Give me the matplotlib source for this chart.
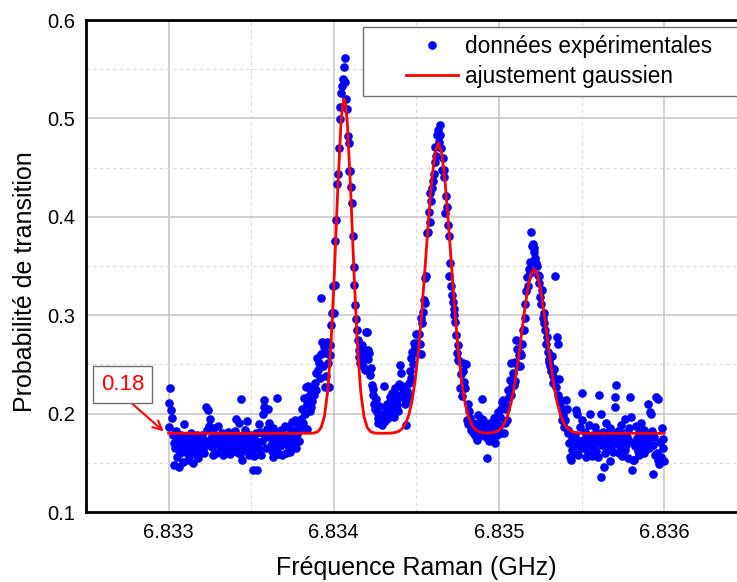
import matplotlib
matplotlib.use('Agg')
import matplotlib.pyplot as plt
import numpy as np
from matplotlib.patches import Rectangle
from matplotlib.ticker import FixedLocator, FormatStrFormatter

plt.rcParams['font.family'] = ['Liberation Sans', 'DejaVu Sans']

# balayage en fréquence : départ 6.833 GHz, pas de 5 kHz
freq_start = 6.833
step_mhz = 0.005

# probabilité mesurée, une ligne = 0.1 MHz (20 points)
prob_rows = [
    [0.186, 0.211, 0.226, 0.204, 0.196, 0.178, 0.148, 0.170, 0.165, 0.182, 0.156, 0.174, 0.146, 0.168, 0.160, 0.178, 0.163, 0.151, 0.172, 0.189],
    [0.167, 0.175, 0.160, 0.153, 0.171, 0.166, 0.158, 0.180, 0.170, 0.162, 0.150, 0.174, 0.165, 0.159, 0.178, 0.168, 0.155, 0.163, 0.176, 0.161],
    [0.178, 0.170, 0.165, 0.160, 0.172, 0.207, 0.183, 0.168, 0.204, 0.187, 0.195, 0.175, 0.166, 0.171, 0.158, 0.185, 0.177, 0.169, 0.160, 0.173],
    [0.187, 0.176, 0.168, 0.173, 0.163, 0.180, 0.158, 0.171, 0.166, 0.175, 0.170, 0.165, 0.181, 0.163, 0.159, 0.172, 0.168, 0.177, 0.174, 0.166],
    [0.170, 0.182, 0.195, 0.161, 0.167, 0.190, 0.159, 0.176, 0.215, 0.153, 0.171, 0.167, 0.183, 0.163, 0.175, 0.192, 0.170, 0.158, 0.178, 0.165],
    [0.168, 0.162, 0.143, 0.174, 0.157, 0.167, 0.180, 0.143, 0.171, 0.164, 0.189, 0.181, 0.158, 0.172, 0.200, 0.214, 0.207, 0.176, 0.165, 0.184],
    [0.205, 0.190, 0.176, 0.181, 0.168, 0.162, 0.185, 0.156, 0.174, 0.181, 0.166, 0.216, 0.159, 0.175, 0.170, 0.167, 0.183, 0.158, 0.172, 0.178],
    [0.178, 0.187, 0.160, 0.175, 0.167, 0.186, 0.173, 0.161, 0.183, 0.170, 0.191, 0.176, 0.180, 0.193, 0.165, 0.183, 0.179, 0.188, 0.172, 0.185],
    [0.195, 0.186, 0.205, 0.190, 0.216, 0.200, 0.227, 0.184, 0.210, 0.228, 0.218, 0.203, 0.222, 0.207, 0.213, 0.226, 0.219, 0.231, 0.241, 0.224],
    [0.256, 0.244, 0.251, 0.236, 0.261, 0.317, 0.273, 0.248, 0.268, 0.227, 0.238, 0.262, 0.273, 0.251, 0.227, 0.270, 0.260, 0.290, 0.302, 0.330],
    [0.302, 0.331, 0.375, 0.397, 0.433, 0.444, 0.470, 0.499, 0.512, 0.526, 0.533, 0.540, 0.552, 0.561, 0.537, 0.520, 0.510, 0.482, 0.475, 0.447],
    [0.447, 0.430, 0.414, 0.380, 0.349, 0.331, 0.310, 0.296, 0.285, 0.275, 0.265, 0.258, 0.251, 0.261, 0.270, 0.248, 0.256, 0.264, 0.244, 0.283],
    [0.283, 0.265, 0.255, 0.262, 0.239, 0.246, 0.229, 0.219, 0.225, 0.210, 0.205, 0.215, 0.202, 0.196, 0.190, 0.208, 0.198, 0.193, 0.188, 0.200],
    [0.200, 0.228, 0.192, 0.207, 0.210, 0.203, 0.196, 0.200, 0.217, 0.214, 0.205, 0.221, 0.211, 0.197, 0.226, 0.219, 0.209, 0.215, 0.203, 0.230],
    [0.249, 0.241, 0.227, 0.228, 0.222, 0.216, 0.210, 0.188, 0.214, 0.223, 0.219, 0.231, 0.243, 0.236, 0.256, 0.263, 0.250, 0.272, 0.268, 0.281],
    [0.263, 0.272, 0.262, 0.281, 0.271, 0.297, 0.261, 0.292, 0.303, 0.315, 0.312, 0.338, 0.340, 0.384, 0.385, 0.405, 0.395, 0.424, 0.416, 0.429],
    [0.436, 0.444, 0.471, 0.456, 0.462, 0.483, 0.488, 0.476, 0.483, 0.493, 0.470, 0.448, 0.460, 0.448, 0.440, 0.404, 0.421, 0.410, 0.392, 0.380],
    [0.340, 0.353, 0.330, 0.321, 0.313, 0.300, 0.306, 0.293, 0.280, 0.262, 0.270, 0.254, 0.253, 0.226, 0.240, 0.218, 0.251, 0.243, 0.232, 0.226],
    [0.250, 0.193, 0.189, 0.210, 0.203, 0.196, 0.183, 0.186, 0.181, 0.190, 0.179, 0.184, 0.176, 0.173, 0.187, 0.199, 0.180, 0.192, 0.178, 0.215],
    [0.195, 0.194, 0.185, 0.188, 0.176, 0.155, 0.182, 0.185, 0.172, 0.190, 0.173, 0.181, 0.188, 0.178, 0.196, 0.170, 0.185, 0.190, 0.178, 0.202],
    [0.187, 0.197, 0.180, 0.205, 0.212, 0.214, 0.180, 0.190, 0.205, 0.209, 0.193, 0.224, 0.217, 0.234, 0.219, 0.251, 0.228, 0.241, 0.229, 0.233],
    [0.252, 0.275, 0.266, 0.248, 0.260, 0.248, 0.262, 0.260, 0.271, 0.285, 0.285, 0.297, 0.311, 0.325, 0.339, 0.330, 0.347, 0.354, 0.343, 0.385],
    [0.370, 0.372, 0.364, 0.368, 0.358, 0.353, 0.350, 0.341, 0.340, 0.333, 0.319, 0.311, 0.326, 0.297, 0.302, 0.292, 0.285, 0.271, 0.278, 0.263],
    [0.255, 0.252, 0.248, 0.243, 0.259, 0.238, 0.231, 0.245, 0.340, 0.227, 0.278, 0.271, 0.219, 0.235, 0.212, 0.214, 0.194, 0.205, 0.199, 0.186],
    [0.193, 0.214, 0.205, 0.183, 0.180, 0.170, 0.156, 0.153, 0.163, 0.175, 0.170, 0.160, 0.178, 0.204, 0.168, 0.200, 0.158, 0.172, 0.186, 0.165],
    [0.221, 0.193, 0.173, 0.165, 0.181, 0.156, 0.176, 0.170, 0.161, 0.188, 0.200, 0.168, 0.173, 0.157, 0.178, 0.165, 0.186, 0.171, 0.162, 0.180],
    [0.156, 0.219, 0.174, 0.200, 0.136, 0.168, 0.181, 0.146, 0.160, 0.172, 0.190, 0.163, 0.177, 0.170, 0.152, 0.185, 0.166, 0.175, 0.161, 0.179],
    [0.207, 0.217, 0.229, 0.170, 0.182, 0.160, 0.175, 0.166, 0.188, 0.157, 0.172, 0.180, 0.163, 0.195, 0.168, 0.176, 0.155, 0.185, 0.172, 0.217],
    [0.197, 0.143, 0.153, 0.170, 0.153, 0.167, 0.187, 0.175, 0.162, 0.181, 0.158, 0.172, 0.190, 0.166, 0.177, 0.160, 0.183, 0.170, 0.164, 0.178],
    [0.174, 0.210, 0.165, 0.202, 0.200, 0.182, 0.139, 0.168, 0.176, 0.158, 0.217, 0.160, 0.215, 0.153, 0.149, 0.171, 0.156, 0.185, 0.165, 0.174],
]
prob_last = 0.152

# ajustement gaussien (décalage en MHz depuis 6.833 GHz, probabilité)
fit_offset_mhz = [0.000, 0.843, 0.863, 0.883, 0.903, 0.923, 0.943, 0.963, 0.983, 1.003, 1.023, 1.043, 1.053, 1.063,
                  1.073, 1.083, 1.103, 1.123, 1.143, 1.163, 1.183, 1.203, 1.223, 1.243, 1.263, 1.283,
                  1.333, 1.353, 1.373, 1.393, 1.413, 1.433, 1.453, 1.473, 1.493, 1.513, 1.533, 1.553, 1.573, 1.593,
                  1.613, 1.633, 1.653, 1.673, 1.693, 1.713, 1.733, 1.753, 1.773, 1.793, 1.813, 1.833, 1.853, 1.873,
                  1.893, 1.913, 1.933, 1.953, 1.973, 1.993, 2.013, 2.033, 2.053, 2.073, 2.093, 2.113, 2.133, 2.153,
                  2.173, 2.193, 2.213, 2.233, 2.253, 2.273, 2.293, 2.313, 2.333, 2.353, 2.373, 2.393, 2.413, 2.433,
                  2.453, 2.473, 2.493, 2.513, 3.000]
fit_prob = [0.1800, 0.1800, 0.1801, 0.1804, 0.1816, 0.1857, 0.1969, 0.2224, 0.2696, 0.3406, 0.4236, 0.4930, 0.5129, 0.5200,
            0.5129, 0.4930, 0.4236, 0.3406, 0.2696, 0.2224, 0.1969, 0.1857, 0.1816, 0.1804, 0.1801, 0.1800,
            0.1801, 0.1803, 0.1808, 0.1820, 0.1845, 0.1892, 0.1979, 0.2122, 0.2341, 0.2648, 0.3041, 0.3495, 0.3960, 0.4370,
            0.4650, 0.4750, 0.4650, 0.4370, 0.3960, 0.3495, 0.3041, 0.2648, 0.2341, 0.2122, 0.1979, 0.1892, 0.1845, 0.1820,
            0.1808, 0.1803, 0.1803, 0.1805, 0.1811, 0.1825, 0.1852, 0.1901, 0.1982, 0.2106, 0.2280, 0.2503, 0.2760, 0.3022,
            0.3255, 0.3413, 0.3470, 0.3413, 0.3255, 0.3022, 0.2760, 0.2503, 0.2280, 0.2106, 0.1982, 0.1901, 0.1852, 0.1825,
            0.1811, 0.1805, 0.1802, 0.1800, 0.1800]

baseline_label = '0.18'

prob = np.array([v for row in prob_rows for v in row] + [prob_last])
freq = freq_start + np.arange(len(prob)) * step_mhz / 1000.0
fit_freq = freq_start + np.array(fit_offset_mhz) / 1000.0

W, H = 737, 582
fig = plt.figure(figsize=(W / 100, H / 100), dpi=100)
# l'axe déborde à droite de l'image (comme l'original)
ax = fig.add_axes([86 / W, 70 / H, (746.75 - 86) / W, 492 / H])

ax.plot(freq, prob, 'o', color='#0000ff', ms=6.2, mew=0, label='données expérimentales', zorder=3)
ax.plot(fit_freq, fit_prob, '-', color='#ff0000', lw=2, label='ajustement gaussien', zorder=3)

ax.set_xlim(6.8325, 6.8365)
ax.set_ylim(0.1, 0.6)

# graduations et grille
ax.xaxis.set_major_locator(FixedLocator([6.833, 6.834, 6.835, 6.836]))
ax.xaxis.set_minor_locator(FixedLocator([6.8325, 6.8335, 6.8345, 6.8355]))
ax.yaxis.set_major_locator(FixedLocator([0.1, 0.2, 0.3, 0.4, 0.5, 0.6]))
ax.yaxis.set_minor_locator(FixedLocator([0.15, 0.25, 0.35, 0.45, 0.55]))
ax.xaxis.set_major_formatter(FormatStrFormatter('%.3f'))
ax.yaxis.set_major_formatter(FormatStrFormatter('%.1f'))
ax.grid(which='major', color='#c8c8c8', lw=1.2)
ax.grid(which='minor', color='#dadada', lw=0.8, ls=(0, (3, 3)))
ax.set_axisbelow(True)
ax.tick_params(which='both', length=0, labelsize=14.5, pad=8)

ax.spines['right'].set_visible(False)
for s in ['left', 'bottom', 'top']:
    ax.spines[s].set_linewidth(2)
    ax.spines[s].set_color('black')

ax.set_xlabel('Fréquence Raman (GHz)', fontsize=18, labelpad=10)
ax.set_ylabel('Probabilité de transition', fontsize=18)
ax.yaxis.set_label_coords(-0.074, 0.4675)

# cadre de la légende (coupé par le bord droit)
frame = Rectangle((363 / W, 1 - 96 / H), 0.6, 69 / H, transform=fig.transFigure,
                  facecolor='white', edgecolor='#707070', lw=1, zorder=4, clip_on=False)
ax.add_patch(frame)
leg = ax.legend(loc='upper left', bbox_to_anchor=(406 / W, 1 - 35 / H), bbox_transform=fig.transFigure,
                frameon=False, fontsize=16.3, handlelength=2.3, handletextpad=0.3, labelspacing=0.3,
                borderpad=0, borderaxespad=0, numpoints=1)
leg.set_zorder(5)

# annotation de la ligne de base
ax.annotate(baseline_label, xy=(6.83297, 0.182), xytext=(6.83272, 0.2296),
            color='#ff0000', fontsize=16, ha='center', va='center',
            bbox=dict(boxstyle='square,pad=0.35', fc='white', ec='#707070', lw=1),
            arrowprops=dict(arrowstyle='->', color='#ff0000', lw=1.5, relpos=(0.5, 0),
                            shrinkA=0, shrinkB=0))

fig.savefig('out.png', dpi=100)
plt.close()
